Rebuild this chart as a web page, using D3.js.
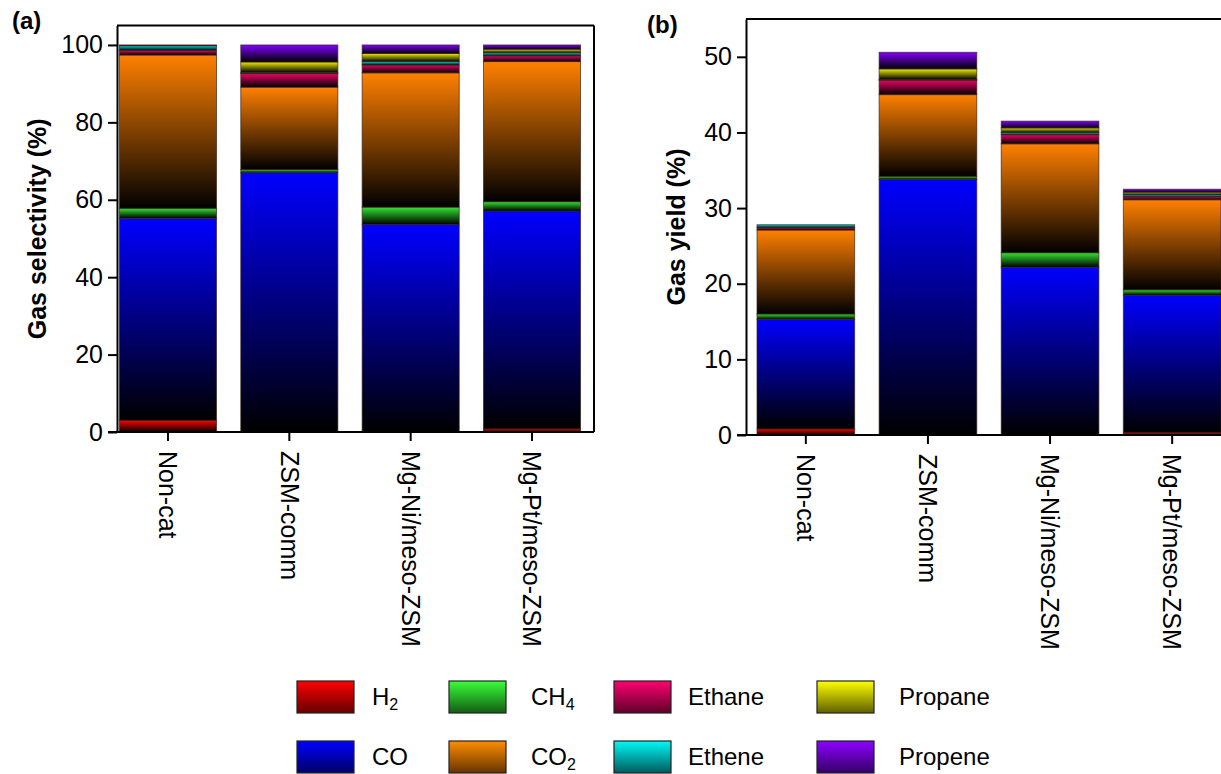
<!DOCTYPE html>
<html>
<head>
<meta charset="utf-8">
<script src="https://cdn.jsdelivr.net/npm/d3@7"></script>
<style>
  body { margin: 0; background: #fff; }
  svg text { font-family: Arial, "Liberation Sans", sans-serif; fill: #000; }
</style>
</head>
<body>
<div id="main"></div>
<script>
// categories and gases
var categories = ["Non-cat", "ZSM-comm", "Mg-Ni/meso-ZSM", "Mg-Pt/meso-ZSM"];
var gases = ["H2", "CO", "CH4", "CO2", "Ethane", "Ethene", "Propane", "Propene"];
var gasColors = ["#ff0000", "#0000ff", "#33e633", "#ff8000", "#ee0066", "#00e0e0", "#f0f000", "#8000ff"];

// (a) gas selectivity, %
var selH2      = [3.0, 0.0, 0.0, 0.8];
var selCO      = [52.2, 67.0, 53.6, 56.3];
var selCH4     = [2.6, 0.8, 4.5, 2.4];
var selCO2     = [39.6, 21.3, 34.7, 36.2];
var selEthane  = [1.2, 3.5, 2.0, 1.5];
var selEthene  = [1.2, 0.3, 0.9, 0.8];
var selPropane = [0.1, 2.7, 2.1, 0.9];
var selPropene = [0.1, 4.4, 2.2, 1.1];

// (b) gas yield, %
var yldH2      = [0.8, 0.0, 0.0, 0.3];
var yldCO      = [14.5, 33.8, 22.2, 18.2];
var yldCH4     = [0.7, 0.4, 1.9, 0.7];
var yldCO2     = [11.1, 10.8, 14.4, 11.9];
var yldEthane  = [0.3, 1.9, 1.2, 0.4];
var yldEthene  = [0.4, 0.1, 0.3, 0.3];
var yldPropane = [0.0, 1.4, 0.6, 0.3];
var yldPropene = [0.0, 2.2, 0.9, 0.4];

var selTicks = [0, 20, 40, 60, 80, 100];
var yldTicks = [0, 10, 20, 30, 40, 50];

var W = 1221, H = 774;

var svg = d3.select("#main").append("svg")
  .attr("width", W)
  .attr("height", H);

var defs = svg.append("defs");

// bar gradients: colour at top, black at bottom
gases.forEach(function(g, i) {
  var lg = defs.append("linearGradient")
    .attr("id", "bar-" + g)
    .attr("x1", 0).attr("y1", 0).attr("x2", 0).attr("y2", 1);
  lg.append("stop").attr("offset", "0%").attr("stop-color", gasColors[i]);
  lg.append("stop").attr("offset", "100%").attr("stop-color", "#000");

  var lg2 = defs.append("linearGradient")
    .attr("id", "leg-" + g)
    .attr("x1", 0).attr("y1", 0).attr("x2", 0).attr("y2", 1);
  lg2.append("stop").attr("offset", "0%").attr("stop-color", d3.color(gasColors[i]).brighter(0.3));
  lg2.append("stop").attr("offset", "100%").attr("stop-color", d3.color(gasColors[i]).darker(2.6));
});

function buildRows(series) {
  return categories.map(function(c, j) {
    var row = { cat: c };
    gases.forEach(function(g, k) { row[g] = series[k][j]; });
    return row;
  });
}

function drawPanel(p) {
  var x = d3.scaleBand()
    .domain(categories)
    .range([p.left, p.bandEnd])
    .paddingInner(0.2)
    .paddingOuter(p.padOuter);

  var y = d3.scaleLinear()
    .domain([0, p.max])
    .range([p.bottom, p.top]);

  var stacked = d3.stack().keys(gases)(buildRows(p.series));

  var g = svg.append("g");

  g.selectAll("g.layer")
    .data(stacked)
    .enter().append("g")
    .attr("class", "layer")
    .attr("fill", function(d) { return "url(#bar-" + d.key + ")"; })
    .selectAll("rect")
    .data(function(d) { return d.filter(function(s) { return s[1] - s[0] > 0; }); })
    .enter().append("rect")
    .attr("x", function(d) { return x(d.data.cat); })
    .attr("width", x.bandwidth())
    .attr("y", function(d) { return y(d[1]); })
    .attr("height", function(d) { return y(d[0]) - y(d[1]); })
    .attr("stroke", "#3b2418")
    .attr("stroke-opacity", 0.75)
    .attr("stroke-width", 0.9);

  // y axis
  var ya = g.append("g")
    .attr("transform", "translate(" + p.left + ",0)")
    .call(d3.axisLeft(y).tickValues(p.ticks).tickSize(9).tickSizeOuter(0).tickPadding(5));
  ya.selectAll("path, line").attr("stroke", "#000").attr("stroke-width", 2);
  ya.selectAll("text").style("font-size", "25px");

  // x axis
  var xa = g.append("g")
    .attr("transform", "translate(0," + p.bottom + ")")
    .call(d3.axisBottom(x).tickSize(9).tickSizeOuter(0));
  xa.select(".domain").remove();
  xa.selectAll("line").attr("stroke", "#000").attr("stroke-width", 2);
  xa.selectAll("text")
    .style("font-size", "25px")
    .attr("transform", "rotate(90)")
    .attr("x", 19)
    .attr("y", 0)
    .attr("dy", "0.35em")
    .style("text-anchor", "start");

  // frame
  g.append("line")
    .attr("x1", p.left - 9).attr("x2", p.frameRight)
    .attr("y1", p.bottom).attr("y2", p.bottom)
    .attr("stroke", "#000").attr("stroke-width", 2);
  g.append("line")
    .attr("x1", p.left).attr("x2", p.frameRight)
    .attr("y1", p.top).attr("y2", p.top)
    .attr("stroke", "#000").attr("stroke-width", 2);
  if (p.rightLine) {
    g.append("line")
      .attr("x1", p.frameRight).attr("x2", p.frameRight)
      .attr("y1", p.top).attr("y2", p.bottom)
      .attr("stroke", "#000").attr("stroke-width", 2);
  }

  // axis title
  g.append("text")
    .attr("transform", "translate(" + p.titleX + "," + ((p.top + p.bottom) / 2) + ") rotate(-90)")
    .attr("text-anchor", "middle")
    .style("font-size", "25px")
    .style("font-weight", "bold")
    .text(p.title);

  // panel letter
  g.append("text")
    .attr("x", p.letterX)
    .attr("y", p.letterY)
    .style("font-size", "24px")
    .style("font-weight", "bold")
    .text(p.letter);
}

drawPanel({
  left: 117, bandEnd: 583, padOuter: 0.02, frameRight: 594, rightLine: true,
  top: 25.6, bottom: 432, max: 105, ticks: selTicks,
  series: [selH2, selCO, selCH4, selCO2, selEthane, selEthene, selPropane, selPropene],
  title: "Gas selectivity (%)", titleX: 46, letter: "(a)", letterX: 12, letterY: 29
});

drawPanel({
  left: 746, bandEnd: 1232, padOuter: 0.09, frameRight: 1225, rightLine: false,
  top: 19, bottom: 435, max: 55, ticks: yldTicks,
  series: [yldH2, yldCO, yldCH4, yldCO2, yldEthane, yldEthene, yldPropane, yldPropene],
  title: "Gas yield (%)", titleX: 685, letter: "(b)", letterX: 647, letterY: 33
});

// legend
var legendLabels = [["H", "2"], ["CO", ""], ["CH", "4"], ["CO", "2"], ["Ethane", ""], ["Ethene", ""], ["Propane", ""], ["Propene", ""]];
var legSwatchX = [297, 449, 614, 817];
var legTextX = [372, 531, 688, 899];
var legRowY = [681, 741];

var leg = svg.append("g");
gases.forEach(function(gname, i) {
  var col = Math.floor(i / 2), row = i % 2;
  leg.append("rect")
    .attr("x", legSwatchX[col])
    .attr("y", legRowY[row])
    .attr("width", 57)
    .attr("height", 32)
    .attr("fill", "url(#leg-" + gname + ")")
    .attr("stroke", "#222")
    .attr("stroke-width", 1.2);
  var t = leg.append("text")
    .attr("x", legTextX[col])
    .attr("y", legRowY[row] + 16)
    .attr("dy", "0.35em")
    .style("font-size", "24px");
  t.append("tspan").text(legendLabels[i][0]);
  if (legendLabels[i][1]) {
    t.append("tspan")
      .attr("dy", "0.3em")
      .style("font-size", "16px")
      .text(legendLabels[i][1]);
  }
});
</script>
</body>
</html>
